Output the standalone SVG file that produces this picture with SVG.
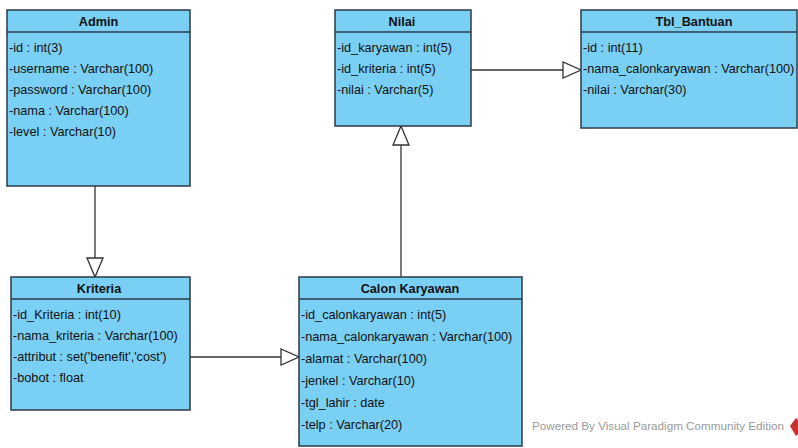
<svg xmlns="http://www.w3.org/2000/svg" width="798" height="448" viewBox="0 0 798 448">
  <style>
    .box { fill: #7acff5; stroke: #2e3a46; stroke-width: 1.5; }
    .sep { stroke: #2e3a46; stroke-width: 1.5; }
    .title { font-family: "Liberation Sans", Arial, sans-serif; font-size: 12.7px; font-weight: bold; fill: #111; text-anchor: middle; }
    .attr { font-family: "Liberation Sans", Arial, sans-serif; font-size: 12.7px; fill: #111; }
    .edge { fill: none; stroke: #333; stroke-width: 1.3; }
    .head { fill: #ffffff; stroke: #333; stroke-width: 1.3; }
    .wm { font-family: "Liberation Sans", Arial, sans-serif; font-size: 11.5px; fill: #9a9a9a; }
  </style>
  <rect width="798" height="448" fill="#ffffff"/>

  <!-- generalisation connectors -->
  <g id="connectors">
    <!-- Admin -> Kriteria -->
    <line class="edge" x1="95" y1="186" x2="95" y2="258"/>
    <polygon class="head" points="87,258 103,258 95,277"/>
    <!-- Kriteria -> Calon Karyawan -->
    <line class="edge" x1="190" y1="357" x2="281" y2="357"/>
    <polygon class="head" points="281,349 281,365 299,357"/>
    <!-- Calon Karyawan -> Nilai -->
    <line class="edge" x1="401" y1="277" x2="401" y2="145"/>
    <polygon class="head" points="393,145 409,145 401,126"/>
    <!-- Nilai -> Tbl_Bantuan -->
    <line class="edge" x1="471" y1="70" x2="563" y2="70"/>
    <polygon class="head" points="563,62 563,78 581,70"/>
  </g>

  <g id="admin">
    <rect class="box" x="7" y="10" width="183" height="176"/>
    <line class="sep" x1="7" y1="32" x2="190" y2="32"/>
    <text class="title" x="98.5" y="26">Admin</text>
    <text class="attr" x="9" y="52">-id : int(3)</text>
    <text class="attr" x="9" y="73">-username : Varchar(100)</text>
    <text class="attr" x="9" y="94">-password : Varchar(100)</text>
    <text class="attr" x="9" y="115">-nama : Varchar(100)</text>
    <text class="attr" x="9" y="136">-level : Varchar(10)</text>
  </g>

  <g id="nilai">
    <rect class="box" x="335" y="10" width="136" height="116"/>
    <line class="sep" x1="335" y1="32" x2="471" y2="32"/>
    <text class="title" x="402" y="26">Nilai</text>
    <text class="attr" x="337" y="52">-id_karyawan : int(5)</text>
    <text class="attr" x="337" y="73">-id_kriteria : int(5)</text>
    <text class="attr" x="337" y="94">-nilai : Varchar(5)</text>
  </g>

  <g id="tbl-bantuan">
    <rect class="box" x="581" y="10" width="216" height="118"/>
    <line class="sep" x1="581" y1="32" x2="797" y2="32"/>
    <text class="title" x="694" y="26">Tbl_Bantuan</text>
    <text class="attr" x="583" y="52">-id : int(11)</text>
    <text class="attr" x="583" y="73">-nama_calonkaryawan : Varchar(100)</text>
    <text class="attr" x="583" y="94">-nilai : Varchar(30)</text>
  </g>

  <g id="kriteria">
    <rect class="box" x="11" y="277" width="179" height="133"/>
    <line class="sep" x1="11" y1="299" x2="190" y2="299"/>
    <text class="title" x="99" y="293">Kriteria</text>
    <text class="attr" x="13" y="319">-id_Kriteria : int(10)</text>
    <text class="attr" x="13" y="340">-nama_kriteria : Varchar(100)</text>
    <text class="attr" x="13" y="361">-attribut : set('benefit','cost')</text>
    <text class="attr" x="13" y="382">-bobot : float</text>
  </g>

  <g id="calon-karyawan">
    <rect class="box" x="299" y="277" width="223" height="169"/>
    <line class="sep" x1="299" y1="299" x2="522" y2="299"/>
    <text class="title" x="410" y="293">Calon Karyawan</text>
    <text class="attr" x="301" y="319">-id_calonkaryawan : int(5)</text>
    <text class="attr" x="301" y="341">-nama_calonkaryawan : Varchar(100)</text>
    <text class="attr" x="301" y="363">-alamat : Varchar(100)</text>
    <text class="attr" x="301" y="385">-jenkel : Varchar(10)</text>
    <text class="attr" x="301" y="407">-tgl_lahir : date</text>
    <text class="attr" x="301" y="429">-telp : Varchar(20)</text>
  </g>

  <!-- editor credit line -->
  <g id="credit">
    <text class="wm" x="532" y="430" textLength="252" lengthAdjust="spacingAndGlyphs">Powered By  Visual Paradigm Community Edition</text>
    <path d="M790,426 L796,418 L800,422 L800,432 L796,436 Z" fill="#c9302c"/>
  </g>
</svg>
